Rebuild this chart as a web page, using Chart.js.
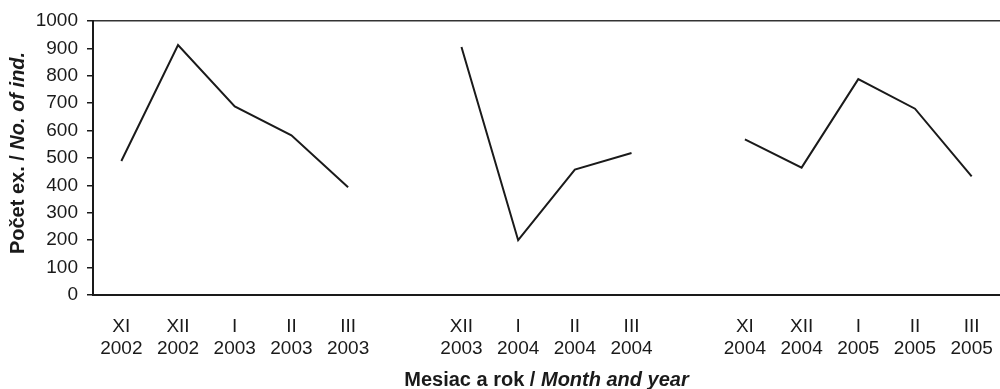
<!DOCTYPE html>
<html lang="en">
<head>
    <meta charset="UTF-8">
    <title>Počet ex. / No. of ind.</title>
    <script src="https://cdn.jsdelivr.net/npm/chart.js"></script>
    <style>
        html, body { margin: 0; padding: 0; background: #fff; overflow: hidden; }
        .chart-container { width: 1000px; height: 389px; }
    </style>
</head>
<body>
    <div class="chart-container">
        <canvas id="countChart"></canvas>
    </div>

    <script>
        // categories (null entries are the gaps between the seasons)
        const months = ['XI', 'XII', 'I', 'II', 'III', '', 'XII', 'I', 'II', 'III', '', 'XI', 'XII', 'I', 'II', 'III'];
        const years = ['2002', '2002', '2003', '2003', '2003', '', '2003', '2004', '2004', '2004', '', '2004', '2004', '2005', '2005', '2005'];
        const counts = [489, 912, 688, 583, 393, null, 905, 200, 458, 518, null, 568, 465, 788, 680, 433];
        const yTicks = [0, 100, 200, 300, 400, 500, 600, 700, 800, 900, 1000];

        const labels = months.map((m, i) => [m, years[i]]);
        const fontFamily = '"Liberation Sans", Arial, sans-serif';

        const axisTitles = {
            id: 'axisTitles',
            afterDraw(chart) {
                const ctx = chart.ctx;
                const area = chart.chartArea;
                const bold = 'bold 20px ' + fontFamily;
                const boldItalic = 'italic bold 20px ' + fontFamily;
                ctx.save();
                ctx.fillStyle = '#1a1a1a';
                ctx.textBaseline = 'middle';
                ctx.textAlign = 'left';

                // x title: bold + bold italic
                const xa = 'Mesiac a rok / ';
                const xb = 'Month and year';
                ctx.font = bold;
                const wa = ctx.measureText(xa).width;
                ctx.font = boldItalic;
                const wb = ctx.measureText(xb).width;
                const x = (area.left + area.right) / 2 - (wa + wb) / 2;
                ctx.font = bold;
                ctx.fillText(xa, x, 380);
                ctx.font = boldItalic;
                ctx.fillText(xb, x + wa, 380);

                // y title, rotated
                const ya = 'Počet ex. / ';
                const yb = 'No. of ind.';
                ctx.font = bold;
                const ha = ctx.measureText(ya).width;
                ctx.font = boldItalic;
                const hb = ctx.measureText(yb).width;
                ctx.translate(18, 153);
                ctx.rotate(-Math.PI / 2);
                const start = -(ha + hb) / 2;
                ctx.font = bold;
                ctx.fillText(ya, start, 0);
                ctx.font = boldItalic;
                ctx.fillText(yb, start + ha, 0);
                ctx.restore();
            }
        };

        const ctx = document.getElementById('countChart').getContext('2d');
        new Chart(ctx, {
            type: 'line',
            data: {
                labels: labels,
                datasets: [{
                    data: counts,
                    borderColor: '#1a1a1a',
                    borderWidth: 2,
                    pointRadius: 0,
                    tension: 0,
                    spanGaps: false,
                    fill: false
                }]
            },
            options: {
                responsive: true,
                maintainAspectRatio: false,
                animation: false,
                layout: { padding: { top: 21, left: 0, right: 0, bottom: 0 } },
                plugins: {
                    legend: { display: false },
                    tooltip: { enabled: false }
                },
                scales: {
                    x: {
                        offset: true,
                        grid: { display: false },
                        border: { display: true, color: '#1a1a1a', width: 2 },
                        ticks: {
                            color: '#1a1a1a',
                            font: { family: fontFamily, size: 19, lineHeight: 1.2 },
                            padding: 12,
                            maxRotation: 0,
                            autoSkip: false
                        },
                        afterFit(scale) {
                            scale.height = 94;
                            scale.paddingLeft = 0;
                            scale.paddingRight = 0;
                        }
                    },
                    y: {
                        min: 0,
                        max: 1000,
                        afterBuildTicks(scale) {
                            scale.ticks = yTicks.map(v => ({ value: v }));
                        },
                        grid: {
                            drawOnChartArea: true,
                            color: c => (c.tick && c.tick.value === 1000) ? '#333' : 'rgba(0,0,0,0)',
                            lineWidth: 1.5,
                            tickColor: '#1a1a1a',
                            tickLength: 6
                        },
                        border: { display: true, color: '#1a1a1a', width: 2 },
                        ticks: {
                            color: '#1a1a1a',
                            font: { family: fontFamily, size: 19 },
                            padding: 9,
                            callback: v => String(v)
                        },
                        afterFit(scale) { scale.width = 93; }
                    }
                }
            },
            plugins: [axisTitles]
        });
    </script>
</body>
</html>
